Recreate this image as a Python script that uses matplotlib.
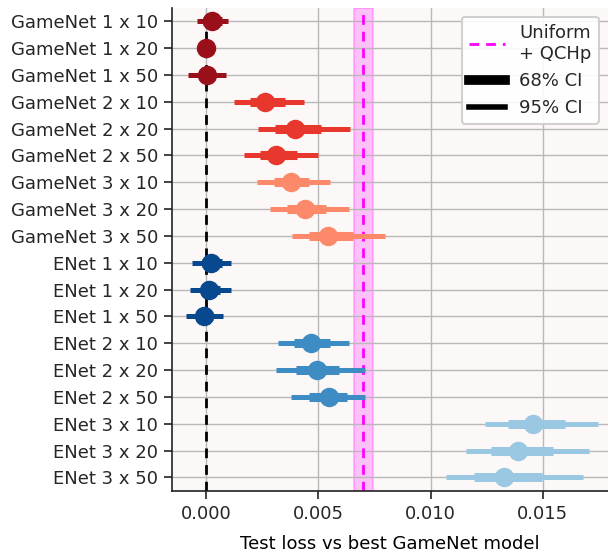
import matplotlib
matplotlib.use("Agg")
import matplotlib.pyplot as plt
from matplotlib.lines import Line2D
import numpy as np

# model names, top to bottom
models = [
    "GameNet 1 x 10", "GameNet 1 x 20", "GameNet 1 x 50",
    "GameNet 2 x 10", "GameNet 2 x 20", "GameNet 2 x 50",
    "GameNet 3 x 10", "GameNet 3 x 20", "GameNet 3 x 50",
    "ENet 1 x 10", "ENet 1 x 20", "ENet 1 x 50",
    "ENet 2 x 10", "ENet 2 x 20", "ENet 2 x 50",
    "ENet 3 x 10", "ENet 3 x 20", "ENet 3 x 50",
]

# point estimates (test loss minus best GameNet)
means = [0.00028, 0.0, 0.00003,
         0.00264, 0.00397, 0.00311,
         0.00377, 0.00441, 0.00542,
         0.00022, 0.00013, -0.00009,
         0.00466, 0.00493, 0.00547,
         0.01456, 0.01390, 0.01328]

ci68_lo = [-0.00015, -0.0001, -0.00030,
           0.00193, 0.00307, 0.00238,
           0.00302, 0.00360, 0.00459,
           -0.00020, -0.00025, -0.00045,
           0.00389, 0.00400, 0.00459,
           0.01346, 0.01269, 0.01193]
ci68_hi = [0.00070, 0.0001, 0.00040,
           0.00352, 0.00512, 0.00404,
           0.00460, 0.00532, 0.00656,
           0.00070, 0.00060, 0.00030,
           0.00553, 0.00593, 0.00628,
           0.01598, 0.01545, 0.01497]

ci95_lo = [-0.00041, -0.0002, -0.00082,
           0.00123, 0.00229, 0.00168,
           0.00227, 0.00284, 0.00383,
           -0.00062, -0.00073, -0.00089,
           0.00320, 0.00313, 0.00379,
           0.01240, 0.01159, 0.01067]
ci95_hi = [0.00099, 0.0002, 0.00088,
           0.00434, 0.00642, 0.00496,
           0.00550, 0.00636, 0.00795,
           0.00111, 0.00110, 0.00073,
           0.00637, 0.00706, 0.00709,
           0.01744, 0.01705, 0.01679]

# uniform + QCHp baseline with its band
baseline = 0.00697
baseline_lo = 0.00658
baseline_hi = 0.00741

colors = (["#99101a"] * 3 + ["#e8372c"] * 3 + ["#fc8a6a"] * 3 +
          ["#08488e"] * 3 + ["#3d8cc3"] * 3 + ["#9ac8e2"] * 3)

plt.rcParams["text.color"] = "#262626"
plt.rcParams["xtick.labelcolor"] = "#262626"
plt.rcParams["ytick.labelcolor"] = "#262626"

fig = plt.figure(figsize=(6.08, 5.54), dpi=100)
ax = fig.add_axes([0.283, 0.114, 0.717, 0.872])
ax.set_facecolor("#fcf8f7")

y = np.arange(len(models))

ax.grid(True, color="#b8b8b8", lw=1.0, zorder=0)

ax.axvspan(baseline_lo, baseline_hi, color="magenta", alpha=0.22, lw=1.5, zorder=1)
ax.axvline(baseline, color="magenta", ls=(0, (3.5, 2.5)), lw=2, zorder=2)
ax.axvline(0, color="black", ls=(0, (3.5, 2.5)), lw=2, zorder=2)

for i in range(len(models)):
    ax.plot([ci95_lo[i], ci95_hi[i]], [y[i], y[i]], color=colors[i], lw=3.6,
            solid_capstyle="butt", zorder=3)
    ax.plot([ci68_lo[i], ci68_hi[i]], [y[i], y[i]], color=colors[i], lw=6.5,
            solid_capstyle="butt", zorder=4)
    ax.plot(means[i], y[i], "o", color=colors[i], ms=13, zorder=5)

ax.set_yticks(y)
ax.set_yticklabels(models, fontsize=13)
ax.set_ylim(17.5, -0.5)
ax.set_xlim(-0.00152, 0.0179)
ax.set_xticks([0.0, 0.005, 0.010, 0.015])
ax.set_xticklabels(["0.000", "0.005", "0.010", "0.015"], fontsize=13)
ax.tick_params(axis="both", length=6, width=1.2, color="#222222", pad=4)
ax.set_xlabel("Test loss vs best GameNet model", fontsize=13, labelpad=9)

for side in ["top", "right"]:
    ax.spines[side].set_visible(False)
for side in ["left", "bottom"]:
    ax.spines[side].set_color("#222222")
    ax.spines[side].set_linewidth(1.2)

handles = [
    Line2D([], [], color="magenta", ls=(0, (3.5, 2.5)), lw=2),
    Line2D([], [], color="black", lw=7),
    Line2D([], [], color="black", lw=4),
]
leg = ax.legend(handles, ["Uniform\n+ QCHp", "68% CI", "95% CI"], loc="upper right",
                fontsize=13, framealpha=0.9, edgecolor="#cccccc", handlelength=2,
                borderaxespad=0.5)
leg.get_frame().set_linewidth(1.5)

fig.savefig("out.png", dpi=100)
